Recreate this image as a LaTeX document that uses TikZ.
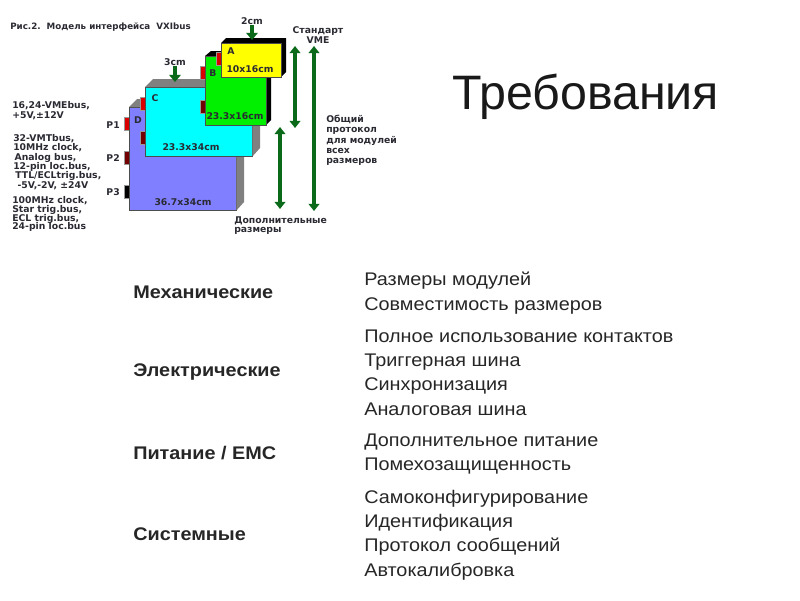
\documentclass[tikz,border=0pt]{standalone}
\usepackage{fontspec}
\setmainfont{Liberation Sans}
\newfontfamily\figfont{DejaVu Sans}
\newfontfamily\tablefont{Liberation Sans}[FakeStretch=1.085]
\usepackage{xcolor}
\usetikzlibrary{positioning,arrows.meta}
\setlength{\lineskiplimit}{-5pt}
\definecolor{modblue}{HTML}{7F7FFF}
\definecolor{modcyan}{HTML}{00FFFF}
\definecolor{modgreen}{HTML}{00F000}
\definecolor{modyellow}{HTML}{FFFF00}
\definecolor{arrowgreen}{HTML}{0A6A1A}
\definecolor{figtext}{HTML}{2A2A33}
\begin{document}
\begin{tikzpicture}[
x=0.025cm,y=-0.025cm,
figlabel/.style={font=\figfont\bfseries\fontsize{6.6}{6.7}\selectfont,text=figtext,inner sep=0pt,align=left},
module/.style={rectangle,draw=black!70,line width=0.3pt,anchor=north west,inner sep=0pt},
pin/.style={rectangle,minimum width=0.125cm,minimum height=0.32cm,inner sep=0pt,draw=black!40,line width=0.2pt},
dimarrow/.style={{Triangle[length=5pt,width=7.5pt]}-{Triangle[length=5pt,width=7.5pt]},line width=2.8pt,arrowgreen},
downarrow/.style={-{Triangle[length=5pt,width=8pt]},line width=3.2pt,arrowgreen},
headtext/.style={font=\tablefont\bfseries\fontsize{13}{13}\selectfont,anchor=west,inner sep=0pt,text=black!85},
celltext/.style={font=\tablefont\fontsize{13}{17.3}\selectfont,anchor=west,inner sep=0pt,align=left,text=black!85}
]
\useasboundingbox (0,0) rectangle (800,600);
\node[inner sep=0pt,anchor=west,font=\fontsize{34.4}{34.4}\selectfont,text=black!90] (title) at (452,97) {Требования};
\node[figlabel,anchor=west,font=\figfont\bfseries\fontsize{6.2}{6.7}\selectfont] (figcaption) at (10,27) {Рис.2.\ \ Модель интерфейса\ \ VXIbus};

\node[pin,fill=red!85!black] (pinDa) at (126.5,123.5) {};
\node[pin,fill=red!45!black] (pinDb) at (126.5,157.5) {};
\node[pin,fill=black] (pinDc) at (126.5,192) {};
\node[module,fill=modblue,minimum width=2.675cm,minimum height=2.575cm] (D) at (129,107) {};
\fill[gray] (D.north west) -- ++(8,-8) -- ++(107,0) -- ++(0,103) -- (D.south east) -- (D.north east) -- cycle;

\node[pin,fill=red!85!black] (pinCa) at (142.5,103.5) {};
\node[pin,fill=red!45!black] (pinCb) at (142.5,137.5) {};
\node[module,fill=modcyan,minimum width=2.675cm,minimum height=1.725cm] (C) at (145,87) {};
\fill[gray] (C.north west) -- ++(8,-8) -- ++(107,0) -- ++(0,69) -- (C.south east) -- (C.north east) -- cycle;

\fill[black] (205,56) -- ++(6,-5) -- ++(60,0) -- ++(0,69) -- (266,125) -- (266,56) -- cycle;
\node[pin,fill=red!85!black] (pinBa) at (202.5,73) {};
\node[pin,fill=red!45!black] (pinBb) at (202.5,107) {};
\node[module,fill=modgreen,minimum width=1.525cm,minimum height=1.725cm] (B) at (205,56) {};

\fill[black] (221,43) -- ++(5,-5) -- ++(60,0) -- ++(0,34) -- (281,77) -- (281,43) -- cycle;
\node[pin,fill=red!85!black] (pinAa) at (218.5,58.5) {};
\node[module,fill=modyellow,minimum width=1.5cm,minimum height=0.85cm] (A) at (221,43) {};

\node[figlabel] (labA) at (231,51) {A};
\node[figlabel] (sizeA) at (250,69) {10x16cm};
\node[figlabel] (labB) at (213,73) {B};
\node[figlabel] (sizeB) at (235,116) {23.3x16cm};
\node[figlabel] (labC) at (155,98) {C};
\node[figlabel] (sizeC) at (191,147) {23.3x34cm};
\node[figlabel] (labD) at (138,120) {D};
\node[figlabel] (sizeD) at (183,202) {36.7x34cm};

\node[figlabel] (twocm) at (252,21) {2cm};
\node[figlabel] (threecm) at (175,62) {3cm};
\coordinate (twoend) at (252,40);
\coordinate (threeend) at (175,82);
\draw[downarrow] (twocm.south) -- (twoend);
\draw[downarrow] (threecm.south) -- (threeend);

\node[figlabel,anchor=east] (Pa) at (120,125) {P1};
\node[figlabel,anchor=east] (Pb) at (120,158) {P2};
\node[figlabel,anchor=east] (Pc) at (120,192) {P3};

\node[figlabel,anchor=north west,font=\figfont\bfseries\fontsize{6.6}{7}\selectfont] (busa) at (12,101) {16,24-VMEbus,\\+5V,±12V};
\node[figlabel,anchor=north west,font=\figfont\bfseries\fontsize{6.6}{6.65}\selectfont] (busb) at (13,134) {32-VMTbus,\\10MHz clock,\\\hspace*{1pt}Analog bus,\\12-pin loc.bus,\\\hspace*{1.5pt}TTL/ECLtrig.bus,\\\hspace*{3pt}-5V,-2V, ±24V};
\node[figlabel,anchor=north west,font=\figfont\bfseries\fontsize{6.6}{6.3}\selectfont] (busc) at (12,196) {100MHz clock,\\Star trig.bus,\\ECL trig.bus,\\24-pin loc.bus};

\node[figlabel,align=center] (vme) at (318,35) {Стандарт\\VME};
\node[figlabel,anchor=north west,font=\figfont\bfseries\fontsize{6.6}{7.3}\selectfont] (common) at (326,115) {Общий\\протокол\\для модулей\\всех\\размеров};
\node[figlabel,anchor=north west] (extra) at (234,216) {Дополнительные\\размеры};

\coordinate (vmetop) at (295,46);
\coordinate (vmebot) at (295,128);
\coordinate (alltop) at (314,46);
\coordinate (allbot) at (314,211);
\coordinate (extratop) at (280,127);
\coordinate (extrabot) at (280,209);
\draw[dimarrow] (vmetop) -- (vmebot);
\draw[dimarrow] (alltop) -- (allbot);
\draw[dimarrow] (extratop) -- (extrabot);

\node[headtext] (mech) at (133,292) {Механические};
\node[headtext] (elec) at (133,372) {Электрические};
\node[headtext] (power) at (133,453) {Питание / ЕМС};
\node[headtext] (sys) at (133,534) {Системные};

\node[celltext] (mechitems) at (364,293) {Размеры модулей\\Совместимость размеров};
\node[celltext] (elecitems) at (364,372.5) {Полное использование контактов\\Триггерная шина\\Синхронизация\\Аналоговая шина};
\node[celltext] (poweritems) at (364,454) {Дополнительное питание\\Помехозащищенность};
\node[celltext] (sysitems) at (364,535) {Самоконфигурирование\\Идентификация\\Протокол сообщений\\Автокалибровка};
\end{tikzpicture}
\end{document}
